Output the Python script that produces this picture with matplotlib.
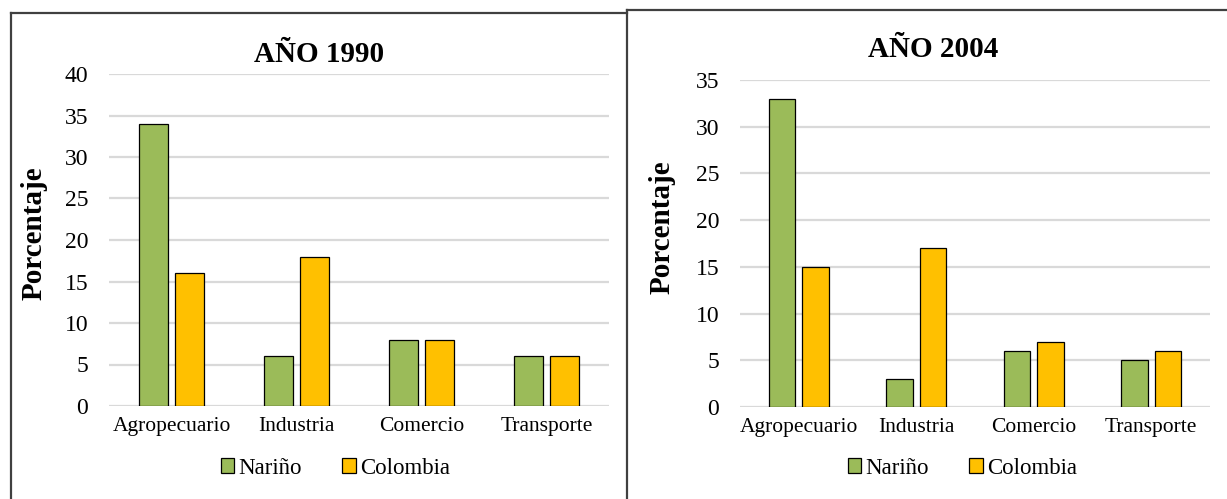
import numpy as np
import matplotlib

matplotlib.use("Agg")
import matplotlib.pyplot as plt
from matplotlib.lines import Line2D

plt.rcParams["font.family"] = ["Liberation Serif", "DejaVu Serif"]

# Participación por sector (%)
sectores = ["Agropecuario", "Industria", "Comercio", "Transporte"]
narino_1990 = [34, 6, 8, 6]
colombia_1990 = [16, 18, 8, 6]
narino_2004 = [33, 3, 6, 5]
colombia_2004 = [15, 17, 7, 6]

VERDE = "#9BBB59"
AMARILLO = "#FFC000"
W, H = 1227, 499


def fx(px):
    return px / W


def fy(py):
    return 1 - py / H


def plot_panel(fig, rect, narino, colombia, ymax):
    ax = fig.add_axes(rect)
    x = np.arange(len(sectores))
    bw = 0.225
    off = 0.144
    ax.bar(x - off, narino, bw, color=VERDE, edgecolor="black", linewidth=0.9,
           zorder=3, label="Nariño")
    ax.bar(x + off, colombia, bw, color=AMARILLO, edgecolor="black", linewidth=0.9,
           zorder=3, label="Colombia")

    ax.set_xlim(-0.5, len(sectores) - 0.5)
    ax.set_ylim(0, ymax)
    ax.set_yticks(np.arange(0, ymax + 1, 5))
    ax.set_xticks(x)
    ax.set_xticklabels(sectores)
    ax.tick_params(axis="y", length=0, pad=15, labelsize=17)
    ax.tick_params(axis="x", length=0, pad=8, labelsize=15.5)
    ax.grid(axis="y", color="#D9D9D9", linewidth=1.6, zorder=0)
    for s in ax.spines.values():
        s.set_visible(False)
    return ax


def main():
    fig = plt.figure(figsize=(W / 100, H / 100), dpi=100)

    # marcos de los dos gráficos
    borde = dict(color="#404040", linewidth=1.6, transform=fig.transFigure)
    fig.add_artist(Line2D([fx(11), fx(11)], [fy(13), 0], **borde))
    fig.add_artist(Line2D([fx(11), fx(627)], [fy(13), fy(13)], **borde))
    fig.add_artist(Line2D([fx(627), fx(627)], [fy(10), 0], **borde))
    fig.add_artist(Line2D([fx(627), 1], [fy(10), fy(10)], **borde))

    ax1 = plot_panel(fig, [fx(109), fy(406), fx(500), (406 - 74) / H],
                     narino_1990, colombia_1990, 40)
    ax2 = plot_panel(fig, [fx(740), fy(407), fx(470), (407 - 80) / H],
                     narino_2004, colombia_2004, 35)

    fig.text(fx(319), fy(62.5), "AÑO 1990", ha="center", va="baseline",
             fontsize=21, fontweight="bold")
    fig.text(fx(933), fy(57), "AÑO 2004", ha="center", va="baseline",
             fontsize=21, fontweight="bold")

    fig.text(fx(34), fy(233), "Porcentaje", rotation=90, ha="center",
             va="center", fontsize=21, fontweight="bold")
    fig.text(fx(662), fy(227), "Porcentaje", rotation=90, ha="center",
             va="center", fontsize=21, fontweight="bold")

    for ax, cx in [(ax1, 335.5), (ax2, 962.5)]:
        handles, labels = ax.get_legend_handles_labels()
        fig.legend(handles, labels, loc="center", bbox_to_anchor=(fx(cx), fy(468)),
                   ncol=2, frameon=False, fontsize=16.5, handlelength=0.58,
                   handleheight=0.58, handletextpad=0.2, columnspacing=1.75,
                   borderpad=0, borderaxespad=0)

    fig.savefig("out.png", dpi=100)


if __name__ == "__main__":
    main()
